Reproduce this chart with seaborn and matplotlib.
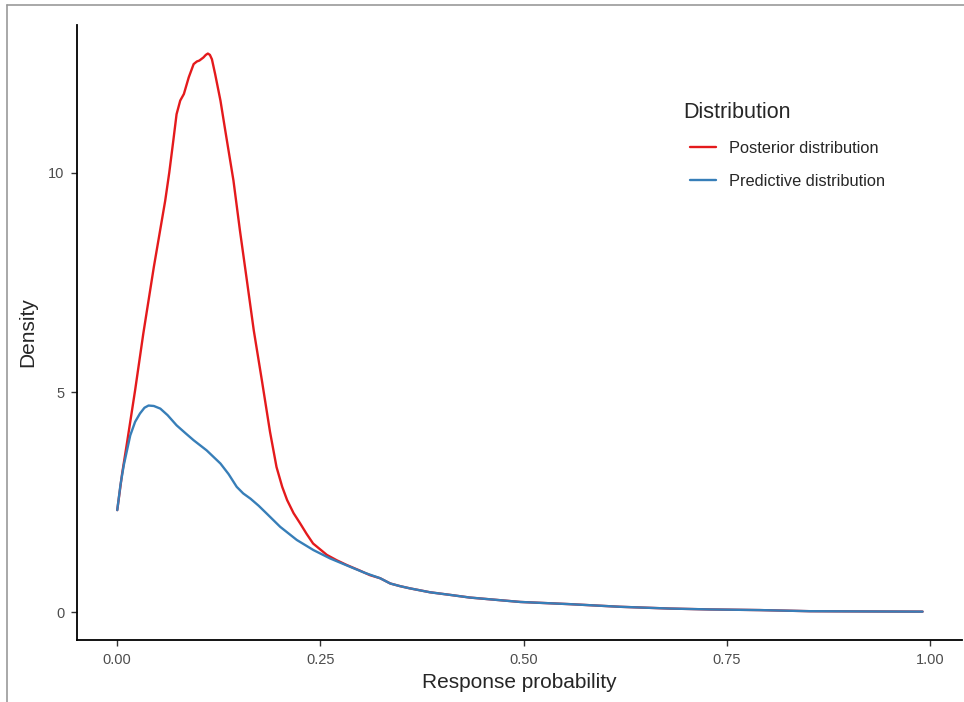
import seaborn as sns
import matplotlib.pyplot as plt
import pandas as pd
from matplotlib.lines import Line2D

# curve values (x = response probability, y = density)
post_x = [0.000, 0.006, 0.012, 0.022, 0.032, 0.045, 0.059, 0.064, 0.069, 0.073,
          0.0775, 0.082, 0.088, 0.094, 0.098, 0.101, 0.106, 0.109, 0.1115, 0.114,
          0.1165, 0.1205, 0.127, 0.133, 0.143, 0.151, 0.1595, 0.168, 0.178, 0.188,
          0.196, 0.203, 0.209, 0.217, 0.225, 0.233, 0.241, 0.258, 0.27, 0.2825,
          0.299, 0.311]
post_y = [2.32, 3.15, 3.85, 5.05, 6.33, 7.85, 9.36, 10.00, 10.73, 11.33,
          11.64, 11.79, 12.17, 12.47, 12.53, 12.55, 12.62, 12.68, 12.71, 12.68,
          12.58, 12.24, 11.64, 10.95, 9.82, 8.68, 7.55, 6.41, 5.27, 4.10,
          3.30, 2.85, 2.55, 2.25, 2.02, 1.78, 1.56, 1.30, 1.18, 1.07,
          0.94, 0.84]

pred_x = [0.000, 0.004, 0.008, 0.016, 0.022, 0.028, 0.0335, 0.0385, 0.045, 0.053,
          0.062, 0.073, 0.084, 0.094, 0.110, 0.127, 0.137, 0.147, 0.155, 0.164,
          0.174, 0.184, 0.2005, 0.221, 0.2415, 0.262, 0.2866, 0.305]
pred_y = [2.32, 2.90, 3.34, 4.02, 4.33, 4.52, 4.65, 4.70, 4.69, 4.63,
          4.48, 4.25, 4.07, 3.91, 3.68, 3.38, 3.14, 2.85, 2.70, 2.58,
          2.42, 2.24, 1.94, 1.64, 1.41, 1.22, 1.03, 0.89]

# both curves share the same tail
tail_x = [0.3235, 0.336, 0.348, 0.360, 0.385, 0.41, 0.434, 0.465, 0.496, 0.557,
          0.619, 0.680, 0.729, 0.791, 0.852, 0.914, 0.991]
tail_y = [0.77, 0.65, 0.59, 0.54, 0.45, 0.39, 0.33, 0.28, 0.23, 0.18,
          0.12, 0.08, 0.06, 0.045, 0.02, 0.015, 0.01]

labels = ["Posterior distribution", "Predictive distribution"]
colors = ["#E41A1C", "#377EB8"]

df = pd.concat([
    pd.DataFrame({"x": post_x + tail_x, "y": post_y + tail_y, "Distribution": labels[0]}),
    pd.DataFrame({"x": pred_x + tail_x, "y": pred_y + tail_y, "Distribution": labels[1]}),
])

sns.set_style("ticks")
plt.rcParams["font.family"] = ["Liberation Sans", "DejaVu Sans"]

fig = plt.figure(figsize=(9.64, 7.02), dpi=100)
ax = fig.add_axes([0.0799, 0.0883, 0.918, 0.8761])

sns.lineplot(data=df, x="x", y="y", hue="Distribution", palette=colors,
             estimator=None, sort=False, linewidth=1.7, ax=ax)
for ln in ax.get_lines():
    ln.set_solid_joinstyle("round")
    ln.set_solid_capstyle("round")

ax.set_xlim(-0.0495, 1.0395)
ax.set_ylim(-0.636, 13.36)
ax.set_xticks([0, 0.25, 0.5, 0.75, 1.0])
ax.set_xticklabels(["0.00", "0.25", "0.50", "0.75", "1.00"])
ax.set_yticks([0, 5, 10])
ax.set_yticklabels(["0", "5", "10"])
ax.tick_params(axis="both", direction="out", length=4, width=1, color="#333333",
               labelcolor="#4D4D4D", labelsize=10.5, pad=5,
               bottom=True, left=True)
ax.set_xlabel("Response probability", fontsize=15, labelpad=5)
ax.set_ylabel("Density", fontsize=15, labelpad=8)

sns.despine(ax=ax)
for s in ["left", "bottom"]:
    ax.spines[s].set_color("black")
    ax.spines[s].set_linewidth(1.3)

leg = ax.legend(title="Distribution", loc="upper left", bbox_to_anchor=(0.676, 0.898),
                frameon=False, fontsize=11.8, title_fontsize=15.5,
                handlelength=1.6, handletextpad=0.75, labelspacing=1.08,
                alignment="left")
for h in leg.get_lines():
    h.set_linewidth(1.7)
leg.get_title().set_x(-7)

# thin screenshot frame
fig.add_artist(Line2D([0.0073, 0.0073], [0, 0.993], color="#999999", linewidth=1.2))
fig.add_artist(Line2D([0.0073, 1.0], [0.993, 0.993], color="#999999", linewidth=1.2))

fig.savefig("out.png", dpi=100)
